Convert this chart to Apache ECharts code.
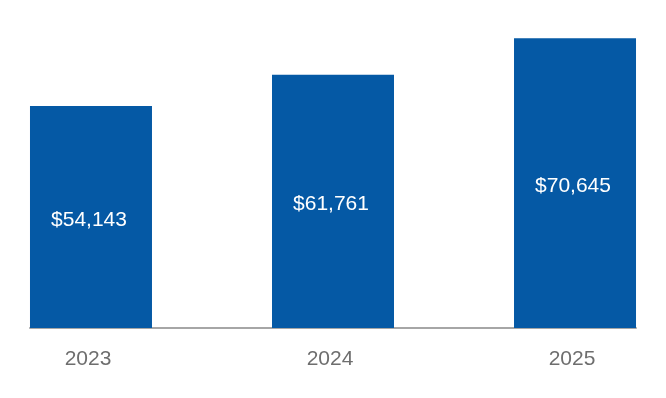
<!DOCTYPE html>
<html>
<head>
<meta charset="utf-8">
<script src="https://cdn.jsdelivr.net/npm/echarts@6/dist/echarts.min.js"></script>
<style>html,body{margin:0;padding:0;background:#fff;}#c{width:666px;height:398px;}</style>
</head>
<body>
<div id="c"></div>
<script>
const years = ['2023', '2024', '2025'];
const values = [54143, 61761, 70645];

const chart = echarts.init(document.getElementById('c'), null, {renderer: 'canvas'});
const fmt = v => '$' + v.toLocaleString('en-US');
chart.setOption({
  animation: false,
  grid: {left: 30, right: 30, top: 0, bottom: 70},
  xAxis: {
    type: 'value', min: -0.252, max: 2.252,
    splitLine: {show: false},
    axisLine: {show: true, lineStyle: {color: '#a6a6a6', width: 2}},
    axisTick: {show: false},
    axisLabel: {
      customValues: [0, 1, 2],
      formatter: v => years[Math.round(v)] || '',
      color: '#6e6e6e', fontSize: 21, fontFamily: 'Liberation Sans, Arial, sans-serif',
      margin: 21, padding: [0, 6, 0, 0]
    }
  },
  yAxis: {type: 'value', min: 0, max: 80000, show: false, splitLine: {show: false}},
  series: [{
    type: 'bar',
    barWidth: 122,
    data: values.map((v, i) => [i, v]),
    itemStyle: {color: '#0559a5'},
    label: {
      show: true, position: 'inside', offset: [-2, 3],
      formatter: p => fmt(p.value[1]),
      color: '#ffffff', fontSize: 21, fontFamily: 'Liberation Sans, Arial, sans-serif'
    }
  }]
});
</script>
</body>
</html>
